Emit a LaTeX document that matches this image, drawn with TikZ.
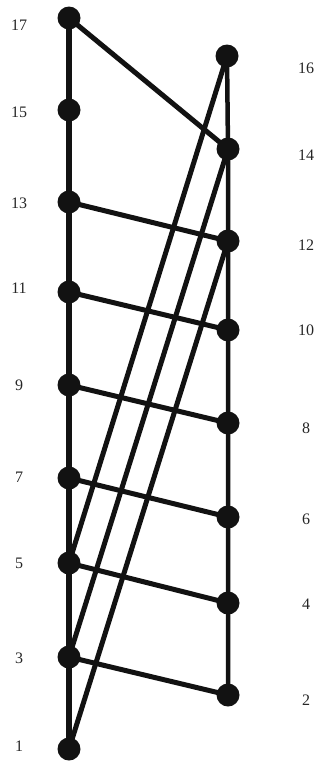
\documentclass[tikz,border=0pt]{standalone}
\usepackage{fontspec}
\setmainfont{Liberation Serif}
\usetikzlibrary{backgrounds}
\begin{document}
\begin{tikzpicture}[x=1pt,y=-1pt,
  dot/.style={circle,fill=black!93,inner sep=0pt,minimum size=23pt},
  lab/.style={font=\fontsize{16}{19}\selectfont,text=black!85},
  edge/.style={line width=5pt,draw=black!93},
  spine/.style={line width=6pt,draw=black!93}]
\useasboundingbox (0,0) rectangle (321,763);
% left nodes
\node[dot] (n17) at (69,18) {};
\node[dot] (n15) at (69,110) {};
\node[dot] (n13) at (69,202) {};
\node[dot] (n11) at (69,292) {};
\node[dot] (n9) at (69,385) {};
\node[dot] (n7) at (69,478) {};
\node[dot] (n5) at (69,563) {};
\node[dot] (n3) at (69,657) {};
\node[dot] (n1) at (69,749) {};
% right nodes
\node[dot] (n16) at (227,56) {};
\node[dot] (n14) at (228,149) {};
\node[dot] (n12) at (228,241) {};
\node[dot] (n10) at (228,330) {};
\node[dot] (n8) at (228,423) {};
\node[dot] (n6) at (228,517) {};
\node[dot] (n4) at (228,603) {};
\node[dot] (n2) at (228,695) {};
% labels
\node[lab] (l17) at (19,25) {17};
\node[lab] (l15) at (19,112) {15};
\node[lab] (l13) at (19,203) {13};
\node[lab] (l11) at (19,288) {11};
\node[lab] (l9) at (19,385) {9};
\node[lab] (l7) at (19,477) {7};
\node[lab] (l5) at (19,563) {5};
\node[lab] (l3) at (19,658) {3};
\node[lab] (l1) at (19,746) {1};
\node[lab] (l16) at (306,68) {16};
\node[lab] (l14) at (306,155) {14};
\node[lab] (l12) at (306,245) {12};
\node[lab] (l10) at (306,330) {10};
\node[lab] (l8) at (306,428) {8};
\node[lab] (l6) at (306,519) {6};
\node[lab] (l4) at (306,604) {4};
\node[lab] (l2) at (306,700) {2};
% edges
\begin{scope}[on background layer]
\draw[spine] (n17.center) -- (n15.center) -- (n13.center) -- (n11.center) -- (n9.center) -- (n7.center) -- (n5.center) -- (n3.center) -- (n1.center);
\draw[edge,line width=4.5pt] (n16.center) -- (n14.center) -- (n12.center) -- (n10.center) -- (n8.center) -- (n6.center) -- (n4.center) -- (n2.center);
\draw[edge] (n17.center) -- (n14.center);
\draw[edge] (n13.center) -- (n12.center);
\draw[edge] (n11.center) -- (n10.center);
\draw[edge] (n9.center) -- (n8.center);
\draw[edge] (n7.center) -- (n6.center);
\draw[edge] (n5.center) -- (n4.center);
\draw[edge] (n3.center) -- (n2.center);
\draw[edge] (n16.center) -- (n5.center);
\draw[edge] (n14.center) -- (n3.center);
\draw[edge] (n12.center) -- (n1.center);
\end{scope}
\end{tikzpicture}
\end{document}
